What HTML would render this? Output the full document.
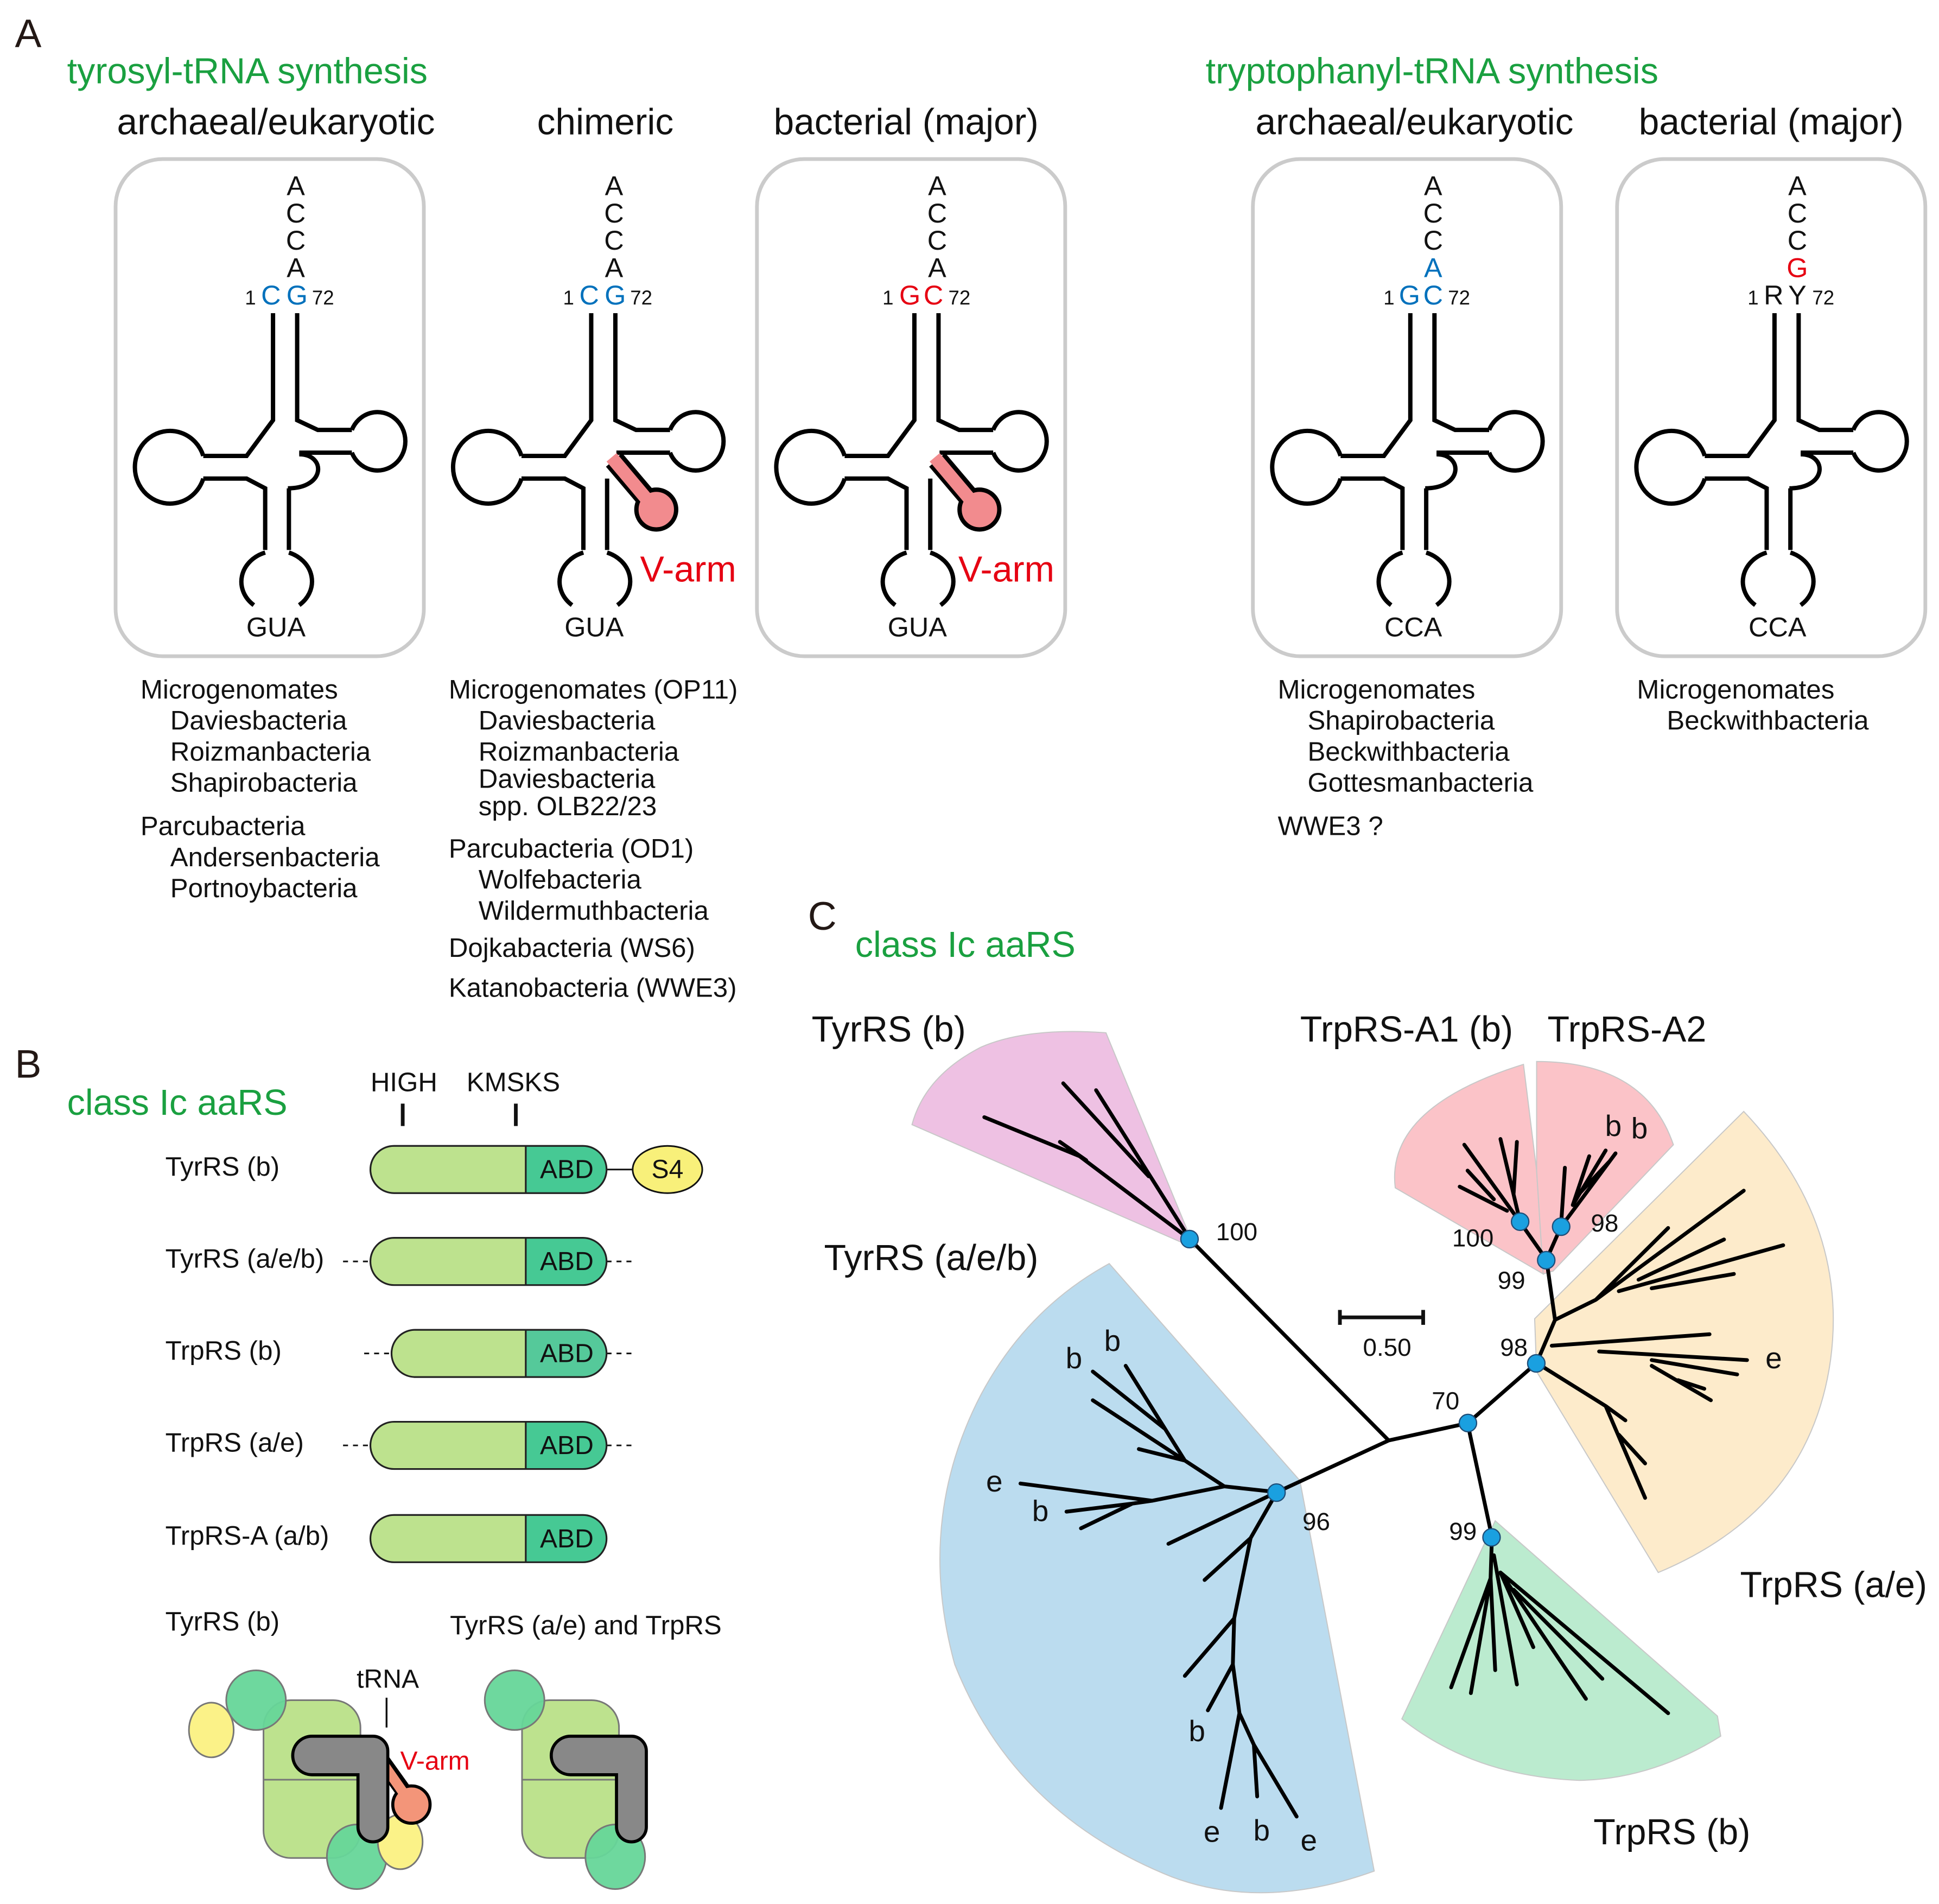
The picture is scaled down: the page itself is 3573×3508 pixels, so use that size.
<!DOCTYPE html>
<html><head><meta charset="utf-8"><style>
html,body{margin:0;padding:0;background:#fff}
svg{display:block}
text{font-family:"Liberation Sans",Arial,sans-serif}
.t{fill:none;stroke:#000;stroke-width:8;vector-effect:non-scaling-stroke;stroke-linejoin:miter}
.e{fill:none;stroke:#000;stroke-width:7;vector-effect:non-scaling-stroke;stroke-linecap:round}
.w{stroke:#c8c8c8;stroke-width:2;vector-effect:non-scaling-stroke}
</style></head><body>
<svg width="3573" height="3508" viewBox="0 0 1560 1532" preserveAspectRatio="none" xmlns="http://www.w3.org/2000/svg">
<defs>
<g id="base">
 <path class="t" d="M783,490 V820 L655,930 H445"/>
 <path class="t" d="M445,930 A170,112 0 1,0 445,1000"/>
 <path class="t" d="M445,1000 H655 L745,1030 V1220"/>
 <path class="t" d="M745,1228 A172,95 0 0,0 690,1390"/>
 <path class="t" d="M860,1228 A172,95 0 0,1 910,1390"/>
 <path class="t" d="M900,490 V820 L1000,850 H1165"/>
 <path class="t" d="M1165,850 A135,90 0 1,1 1165,920"/>
</g>
<g id="tr" transform="translate(89.68,124.09) scale(0.166,0.261)">
 <use href="#base"/>
 <path class="t" d="M1165,920 H910"/>
 <path class="t" d="M910,925 C1040,925 1040,1030 855,1030"/>
 <path class="t" d="M860,1030 V1220"/>
</g>
<g id="trv" transform="translate(89.68,124.09) scale(0.166,0.261)">
 <use href="#base"/>
 <path class="t" d="M1165,920 H905"/>
 <path class="t" d="M860,1000 V1220"/>
</g>
<g id="varm">
 <line x1="238" y1="370" x2="266" y2="403" stroke="#000" stroke-width="17"/>
 <circle cx="272" cy="410" r="16" fill="#f28b8e" stroke="#000" stroke-width="3.5"/>
 <line x1="236" y1="368" x2="268" y2="406" stroke="#f28b8e" stroke-width="10.5"/>
</g>
</defs>

<!-- Panel A -->
<text x="12" y="38" font-size="32" fill="#231815">A</text>
<text x="54" y="67" font-size="29" fill="#1aa040">tyrosyl-tRNA synthesis</text>
<text x="970" y="67" font-size="29" fill="#1aa040">tryptophanyl-tRNA synthesis</text>
<g font-size="29.5" fill="#111" text-anchor="middle">
<text x="222" y="108">archaeal/eukaryotic</text>
<text x="487" y="108">chimeric</text>
<text x="729" y="108">bacterial (major)</text>
<text x="1138" y="108">archaeal/eukaryotic</text>
<text x="1425" y="108">bacterial (major)</text>
</g>
<g fill="none" stroke="#cbcbcb" stroke-width="3">
<rect x="93" y="128" width="248" height="400" rx="38"/>
<rect x="609" y="128" width="248" height="400" rx="38"/>
<rect x="1008" y="128" width="248" height="400" rx="38"/>
<rect x="1301" y="128" width="248" height="400" rx="38"/>
</g>
<use href="#tr"/>
<use href="#trv" x="256"/>
<use href="#trv" x="516"/>
<use href="#tr" x="915"/>
<use href="#tr" x="1208"/>
<use href="#varm" x="256"/>
<use href="#varm" x="516"/>
<text x="515" y="468" font-size="29" fill="#e60012">V-arm</text>
<text x="771" y="468" font-size="29" fill="#e60012">V-arm</text>

<!-- acceptor letters -->
<g font-size="22" text-anchor="middle" fill="#111">
<g><text x="238" y="157">A</text><text x="238" y="179">C</text><text x="238" y="201">C</text><text x="238" y="223">A</text><text x="222" y="512">GUA</text></g>
<g transform="translate(256,0)"><text x="238" y="157">A</text><text x="238" y="179">C</text><text x="238" y="201">C</text><text x="238" y="223">A</text><text x="222" y="512">GUA</text></g>
<g transform="translate(516,0)"><text x="238" y="157">A</text><text x="238" y="179">C</text><text x="238" y="201">C</text><text x="238" y="223">A</text><text x="222" y="512">GUA</text></g>
<g transform="translate(915,0)"><text x="238" y="157">A</text><text x="238" y="179">C</text><text x="238" y="201">C</text><text x="238" y="223" fill="#0071bc">A</text><text x="222" y="512">CCA</text></g>
<g transform="translate(1208,0)"><text x="238" y="157">A</text><text x="238" y="179">C</text><text x="238" y="201">C</text><text x="238" y="223" fill="#e60012">G</text><text x="222" y="512">CCA</text></g>
</g>
<g font-size="22" text-anchor="middle">
<text x="218" y="245" fill="#0071bc">C</text><text x="239" y="245" fill="#0071bc">G</text>
<text x="474" y="245" fill="#0071bc">C</text><text x="495" y="245" fill="#0071bc">G</text>
<text x="732" y="245" fill="#e60012">G</text><text x="751" y="245" fill="#e60012">C</text>
<text x="1134" y="245" fill="#0071bc">G</text><text x="1153" y="245" fill="#0071bc">C</text>
<text x="1427" y="245" fill="#111">R</text><text x="1446" y="245" fill="#111">Y</text>
</g>
<g font-size="16" fill="#111">
<text x="197" y="245">1</text><text x="251" y="245">72</text>
<text x="453" y="245">1</text><text x="507" y="245">72</text>
<text x="710" y="245">1</text><text x="763" y="245">72</text>
<text x="1113" y="245">1</text><text x="1165" y="245">72</text>
<text x="1406" y="245">1</text><text x="1458" y="245">72</text>
</g>

<g font-size="21.5" fill="#111">
<text x="113" y="562">Microgenomates</text>
<text x="137" y="587">Daviesbacteria</text>
<text x="137" y="612">Roizmanbacteria</text>
<text x="137" y="637">Shapirobacteria</text>
<text x="113" y="672">Parcubacteria</text>
<text x="137" y="697">Andersenbacteria</text>
<text x="137" y="722">Portnoybacteria</text>

<text x="361" y="562">Microgenomates (OP11)</text>
<text x="385" y="587">Daviesbacteria</text>
<text x="385" y="612">Roizmanbacteria</text>
<text x="385" y="634">Daviesbacteria</text>
<text x="385" y="656">spp. OLB22/23</text>
<text x="361" y="690">Parcubacteria (OD1)</text>
<text x="385" y="715">Wolfebacteria</text>
<text x="385" y="740">Wildermuthbacteria</text>
<text x="361" y="770">Dojkabacteria (WS6)</text>
<text x="361" y="802">Katanobacteria (WWE3)</text>

<text x="1028" y="562">Microgenomates</text>
<text x="1052" y="587">Shapirobacteria</text>
<text x="1052" y="612">Beckwithbacteria</text>
<text x="1052" y="637">Gottesmanbacteria</text>
<text x="1028" y="672">WWE3 ?</text>

<text x="1317" y="562">Microgenomates</text>
<text x="1341" y="587">Beckwithbacteria</text>
</g>

<!-- Panel B -->
<text x="12" y="867" font-size="32" fill="#231815">B</text>
<text x="54" y="897" font-size="29" fill="#1aa040">class Ic aaRS</text>
<g font-size="21.5" fill="#111">
<text x="325" y="878" text-anchor="middle">HIGH</text>
<text x="413" y="878" text-anchor="middle">KMSKS</text>
</g>
<g font-size="21.5" fill="#111">
<text x="133" y="946">TyrRS (b)</text>
<text x="133" y="1020">TyrRS (a/e/b)</text>
<text x="133" y="1094">TrpRS (b)</text>
<text x="133" y="1168">TrpRS (a/e)</text>
<text x="133" y="1243">TrpRS-A (a/b)</text>
<text x="133" y="1312">TyrRS (b)</text>
<text x="362" y="1315">TyrRS (a/e) and TrpRS</text>
</g>
<line x1="324" y1="888" x2="324" y2="906" stroke="#111" stroke-width="3"/>
<line x1="415" y1="888" x2="415" y2="906" stroke="#111" stroke-width="3"/>
<g stroke="#111" stroke-width="1.3">
<line x1="488" y1="941" x2="510" y2="941"/>
<ellipse cx="537" cy="941" rx="28" ry="19" fill="#f8f07a"/>
<g stroke-dasharray="4,4">
<line x1="276" y1="1015" x2="298" y2="1015"/><line x1="488" y1="1015" x2="510" y2="1015"/>
<line x1="293" y1="1089" x2="315" y2="1089"/><line x1="488" y1="1089" x2="510" y2="1089"/>
<line x1="276" y1="1163" x2="298" y2="1163"/><line x1="488" y1="1163" x2="510" y2="1163"/>
</g>
</g>
<text x="537" y="948" font-size="21" text-anchor="middle" fill="#111">S4</text>
<g id="bar1">
<rect x="298" y="922" width="190" height="38" rx="19" fill="#bde28e"/>
<path d="M423,922 H469 A19,19 0 0,1 469,960 H423 Z" fill="#46c994"/>
<rect x="298" y="922" width="190" height="38" rx="19" fill="none" stroke="#222" stroke-width="1.4"/>
<line x1="423" y1="922" x2="423" y2="960" stroke="#222" stroke-width="1.4"/>
<text x="456" y="948" font-size="21" text-anchor="middle" fill="#111">ABD</text>
</g>
<use href="#bar1" y="74"/>
<g transform="translate(0,148)">
<rect x="315" y="922" width="173" height="38" rx="19" fill="#bde28e"/>
<path d="M423,922 H469 A19,19 0 0,1 469,960 H423 Z" fill="#55c99a"/>
<rect x="315" y="922" width="173" height="38" rx="19" fill="none" stroke="#222" stroke-width="1.4"/>
<line x1="423" y1="922" x2="423" y2="960" stroke="#222" stroke-width="1.4"/>
<text x="456" y="948" font-size="21" text-anchor="middle" fill="#111">ABD</text>
</g>
<use href="#bar1" y="222"/>
<use href="#bar1" y="297"/>

<!-- cartoons -->
<g id="cart" stroke="#777" stroke-width="1.3">
<rect x="212" y="1368" width="78" height="127" rx="22" fill="#bde28e"/>
<line x1="212" y1="1432" x2="290" y2="1432"/>
<ellipse cx="206" cy="1368" rx="24" ry="24" fill="#66d699" fill-opacity="0.95"/>
<ellipse cx="287" cy="1494" rx="24" ry="26" fill="#66d699" fill-opacity="0.95"/>
</g>
<ellipse cx="170" cy="1392" rx="18" ry="22" fill="#fbf288" stroke="#777" stroke-width="1.3"/>
<ellipse cx="322" cy="1482" rx="18" ry="22" fill="#fbf288" stroke="#777" stroke-width="1.3"/>
<line x1="306" y1="1415" x2="326" y2="1443" stroke="#000" stroke-width="13"/>
<circle cx="331" cy="1452" r="15" fill="#f39579" stroke="#000" stroke-width="2.5"/>
<line x1="304" y1="1413" x2="327" y2="1446" stroke="#f39579" stroke-width="8"/>
<g id="Lsh">
<path d="M251,1397 H300 A12,12 0 0,1 312,1409 V1470 A12,12 0 0,1 288,1470 V1428 H251 A15,15 0 0,1 251,1397 Z" fill="#888" stroke="#000" stroke-width="2.5"/>
</g>
<text x="312" y="1358" font-size="21" text-anchor="middle" fill="#111">tRNA</text>
<line x1="311" y1="1366" x2="311" y2="1390" stroke="#111" stroke-width="1.5"/>
<text x="322" y="1424" font-size="21" fill="#e60012">V-arm</text>
<use href="#cart" x="208"/>
<use href="#Lsh" x="208"/>

<!-- Panel C -->
<text x="650" y="748" font-size="32" fill="#231815">C</text>
<text x="688" y="770" font-size="29" fill="#1aa040">class Ic aaRS</text>

<g transform="translate(720.5,807.9) scale(0.529,0.462)">
<path class="w" fill="#eec1e3" d="M25,210 L455,425 L320,50 Q200,40 130,75 Q45,125 25,210 Z"/>
<path class="w" fill="#bbdcef" d="M325,452 L615,830 L728,1510 Q560,1580 420,1520 Q180,1410 90,1150 Q30,900 130,680 Q200,530 325,452 Z"/>
<path class="w" fill="#fbc3c8" d="M985,470 L760,320 Q745,180 955,105 L975,290 Z"/>
<path class="w" fill="#fbc3c8" d="M985,470 L975,290 L975,100 Q1140,100 1183,245 L1000,465 Z"/>
<path class="w" fill="#fdebcb" d="M972,548 L1290,187 Q1450,380 1422,620 Q1390,880 1160,990 L975,640 Z"/>
<path class="w" fill="#bbebcf" d="M912,900 L1250,1240 L1255,1275 Q1150,1350 1040,1352 Q880,1345 770,1245 Z"/>

<path class="e" d="M448,410 L750,760 L870,730 M750,760 L580,850 M870,730 L975,625 L1003,550 L990,445 M870,730 L907,928"/>
<path class="e" d="M448,410 L280,265 L135,197 M448,410 L305,150 M385,300 L255,138 M290,272 L250,240"/>
<path class="e" d="M580,850 L500,840 L390,865 L190,835 M390,865 L360,870 L260,884 M360,870 L282,913 M500,840 L440,795 L300,690 M440,795 L370,775 M440,795 L410,740 L300,640 M410,740 L350,630 M580,850 L415,940 M580,850 L540,930 L470,1003 M540,930 L515,1070 L440,1170 M515,1070 L513,1150 L475,1230 M513,1150 L523,1235 L495,1400 M523,1235 L545,1290 L550,1380 M545,1290 L610,1415"/>
<path class="e" d="M1003,550 L1065,515 L1290,325 M1065,515 L1175,390 M1100,500 L1350,420 M1130,480 L1260,410 M1150,495 L1275,470 M998,595 L1238,575 M1070,605 L1295,620 M1150,620 L1280,645 M1150,630 L1240,690 M1190,655 L1230,670 M975,625 L1080,700 L1140,860 M1080,700 L1110,725 M1100,750 L1140,800"/>
<path class="e" d="M907,928 L905,1000 L845,1190 M905,1000 L875,1200 M905,1000 L912,1160 M910,960 L945,1185 M920,990 L970,1120 M920,990 L1050,1210 M940,1020 L1075,1175 M920,990 L1175,1235"/>
<path class="e" d="M990,445 L950,380 M990,445 L1012,388 M950,380 L865,245 M950,380 L920,235 M940,330 L945,240 M930,360 L858,318 M910,340 L870,290 M1012,388 L1018,285 M1012,388 L1095,260 M1030,350 L1080,255 M1030,350 L1055,265 M1040,330 L1085,275"/>
</g>
<g fill="#1aa0e0" stroke="#1f4e79" stroke-width="1">
<circle cx="957" cy="997" r="7"/>
<circle cx="1181" cy="1145" r="7"/>
<circle cx="1236" cy="1097" r="7"/>
<circle cx="1200" cy="1237" r="7"/>
<circle cx="1027" cy="1201" r="7"/>
<circle cx="1244" cy="1014" r="7"/>
<circle cx="1223" cy="983" r="7"/>
<circle cx="1256" cy="987" r="7"/>
</g>
<g font-size="20" fill="#111" text-anchor="middle">
<text x="995" y="998">100</text>
<text x="1185" y="1003">100</text>
<text x="1291" y="991">98</text>
<text x="1216" y="1037">99</text>
<text x="1218" y="1091">98</text>
<text x="1163" y="1134">70</text>
<text x="1059" y="1231">96</text>
<text x="1177" y="1239">99</text>
<text x="1116" y="1091">0.50</text>
</g>
<g stroke="#111" stroke-width="3">
<line x1="1078" y1="1060" x2="1145" y2="1060"/>
<line x1="1078" y1="1054" x2="1078" y2="1066"/>
<line x1="1145" y1="1054" x2="1145" y2="1066"/>
</g>
<g font-size="24" fill="#111" text-anchor="middle">
<text x="895" y="1087">b</text><text x="864" y="1101">b</text>
<text x="800" y="1200">e</text><text x="837" y="1224">b</text>
<text x="963" y="1401">b</text><text x="975" y="1482">e</text>
<text x="1015" y="1481">b</text><text x="1053" y="1489">e</text>
<text x="1427" y="1101">e</text>
<text x="1298" y="914">b</text><text x="1319" y="916">b</text>
</g>
<g font-size="29" fill="#111">
<text x="653" y="838">TyrRS (b)</text>
<text x="1046" y="838">TrpRS-A1 (b)</text>
<text x="1245" y="838">TrpRS-A2</text>
<text x="663" y="1022">TyrRS (a/e/b)</text>
<text x="1400" y="1285">TrpRS (a/e)</text>
<text x="1282" y="1484">TrpRS (b)</text>
</g>
</svg>
</body></html>
